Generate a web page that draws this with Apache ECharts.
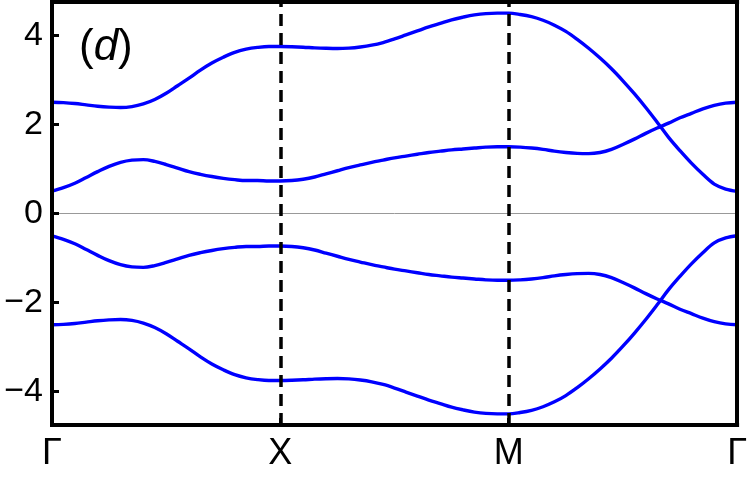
<!DOCTYPE html>
<html>
<head>
<meta charset="utf-8">
<script src="https://cdn.jsdelivr.net/npm/echarts@6/dist/echarts.min.js"></script>
<style>html,body{margin:0;padding:0;background:#fff}#c{width:750px;height:480px}</style>
</head>
<body>
<div id="c"></div>
<script>
// path coordinate (Γ=0, X=1, M=2, Γ=3)
const kPoints = [0.00,0.05,0.10,0.15,0.20,0.25,0.30,0.35,0.40,0.45,
                 0.50,0.55,0.60,0.65,0.70,0.75,0.80,0.85,0.90,0.95,
                 1.00,1.05,1.10,1.15,1.20,1.25,1.30,1.35,1.40,1.45,
                 1.50,1.55,1.60,1.65,1.70,1.75,1.80,1.85,1.90,1.95,
                 2.00,2.05,2.10,2.15,2.20,2.25,2.30,2.35,2.40,2.45,
                 2.50,2.55,2.60,2.65,2.70,2.75,2.80,2.85,2.90,2.95,3.00];
const kTickValues = [0, 1, 2, 3];
const kTickLabels = ['Γ', 'X', 'M', 'Γ'];
const yTickValues = [-4, -2, 0, 2, 4];
const yTickLabels = ['\u22124', '\u22122', '0', '2', '4'];
const panelLabel = 'd';

const band1 = [2.50,2.49,2.47,2.44,2.41,2.39,2.38,2.40,2.46,2.56,
               2.70,2.87,3.04,3.22,3.38,3.51,3.62,3.69,3.73,3.75,
               3.75,3.745,3.735,3.72,3.71,3.705,3.715,3.74,3.78,3.84,
               3.92,4.01,4.10,4.19,4.27,4.35,4.41,4.46,4.49,4.50,
               4.50,4.47,4.42,4.34,4.23,4.09,3.91,3.71,3.49,3.25,
               2.98,2.69,2.38,2.05,1.71,1.41,1.13,0.88,0.66,0.55,0.50];
const band2 = [0.50,0.58,0.68,0.81,0.94,1.06,1.15,1.20,1.21,1.17,
               1.10,1.02,0.94,0.88,0.83,0.79,0.76,0.74,0.74,0.73,
               0.73,0.74,0.77,0.82,0.89,0.96,1.03,1.09,1.15,1.20,
               1.25,1.29,1.33,1.37,1.40,1.43,1.45,1.47,1.49,1.50,
               1.50,1.49,1.47,1.44,1.40,1.37,1.35,1.345,1.37,1.44,
               1.55,1.67,1.80,1.92,2.03,2.15,2.25,2.35,2.43,2.48,2.50];
const band3 = [-0.50,-0.58,-0.68,-0.81,-0.94,-1.06,-1.15,-1.20,-1.21,-1.17,
               -1.10,-1.02,-0.94,-0.88,-0.83,-0.79,-0.76,-0.74,-0.74,-0.73,
               -0.73,-0.74,-0.77,-0.82,-0.89,-0.96,-1.03,-1.09,-1.15,-1.20,
               -1.25,-1.29,-1.33,-1.37,-1.40,-1.43,-1.45,-1.47,-1.49,-1.50,
               -1.50,-1.49,-1.47,-1.44,-1.40,-1.37,-1.35,-1.345,-1.37,-1.44,
               -1.55,-1.67,-1.80,-1.92,-2.03,-2.15,-2.25,-2.35,-2.43,-2.48,-2.50];
const band4 = [-2.50,-2.49,-2.47,-2.44,-2.41,-2.39,-2.38,-2.40,-2.46,-2.56,
               -2.70,-2.87,-3.04,-3.22,-3.38,-3.51,-3.62,-3.69,-3.73,-3.75,
               -3.75,-3.745,-3.735,-3.72,-3.71,-3.705,-3.715,-3.74,-3.78,-3.84,
               -3.92,-4.01,-4.10,-4.19,-4.27,-4.35,-4.41,-4.46,-4.49,-4.50,
               -4.50,-4.47,-4.42,-4.34,-4.23,-4.09,-3.91,-3.71,-3.49,-3.25,
               -2.98,-2.69,-2.38,-2.05,-1.71,-1.41,-1.13,-0.88,-0.66,-0.55,-0.50];
const bands = [band1, band2, band3, band4];
const highSymPoints = [1, 2];

const FONT = 'Liberation Sans, Arial, sans-serif';
const chart = echarts.init(document.getElementById('c'), null, {renderer: 'canvas'});

const frameLine = {show: true, onZero: false, lineStyle: {color: '#000', width: 4, cap: 'square'}};

const series = bands.map((b, i) => ({
  type: 'line',
  data: kPoints.map((k, j) => [k, b[j]]),
  smooth: 0.35,
  showSymbol: false,
  symbol: 'none',
  lineStyle: {color: '#0000ff', width: 3.4},
  z: 3,
  silent: true
}));
series.push({
  type: 'line',
  data: [],
  markLine: {
    silent: true,
    symbol: 'none',
    animation: false,
    label: {show: false},
    data: [{yAxis: 0, lineStyle: {color: '#999', width: 1, type: 'solid'}}]
  },
  z: 1
});
series.push({
  type: 'line',
  data: [],
  markLine: {
    silent: true,
    symbol: 'none',
    animation: false,
    label: {show: false},
    lineStyle: {color: '#000', width: 3.5, type: [12, 7]},
    data: highSymPoints.map(v => ({xAxis: v}))
  },
  z: 5
});

chart.setOption({
  animation: false,
  backgroundColor: '#fff',
  grid: {left: 52, right: 12, top: 2, bottom: 55, containLabel: false},
  xAxis: [{
    type: 'value', min: 0, max: 3, interval: 1, position: 'bottom', z: 10,
    axisLine: frameLine,
    axisTick: {show: true, inside: true, length: 7, lineStyle: {color: '#000', width: 3}},
    axisLabel: {show: true, showMinLabel: true, showMaxLabel: true, margin: 11, fontSize: 36, color: '#000', fontFamily: FONT,
      formatter: v => { const i = kTickValues.indexOf(v); return i >= 0 ? kTickLabels[i] : ''; }},
    splitLine: {show: false}
  }, {
    type: 'value', min: 0, max: 3, position: 'top', z: 10,
    axisLine: frameLine, axisTick: {show: false}, axisLabel: {show: false}, splitLine: {show: false}
  }],
  yAxis: [{
    type: 'value', min: -4.75, max: 4.75, position: 'left', z: 10,
    axisLine: frameLine,
    axisTick: {show: true, inside: true, length: 7, customValues: yTickValues, lineStyle: {color: '#000', width: 3}},
    axisLabel: {show: true, margin: 9, fontSize: 34, color: '#000', fontFamily: FONT, customValues: yTickValues,
      formatter: v => { const i = yTickValues.indexOf(v); return i >= 0 ? yTickLabels[i] : ''; }},
    splitLine: {show: false}
  }, {
    type: 'value', min: -4.75, max: 4.75, position: 'right', z: 10,
    axisLine: frameLine, axisTick: {show: false}, axisLabel: {show: false}, splitLine: {show: false}
  }],
  graphic: [{
    type: 'text', left: 79, top: 26, z: 20,
    style: {
      text: '{n|(}{i|' + panelLabel + '}{n|)}',
      rich: {
        n: {fontSize: 44, fontFamily: FONT, fill: '#000'},
        i: {fontSize: 44, fontFamily: FONT, fontStyle: 'italic', fill: '#000'}
      }
    }
  }],
  series: series
});
</script>
</body>
</html>
